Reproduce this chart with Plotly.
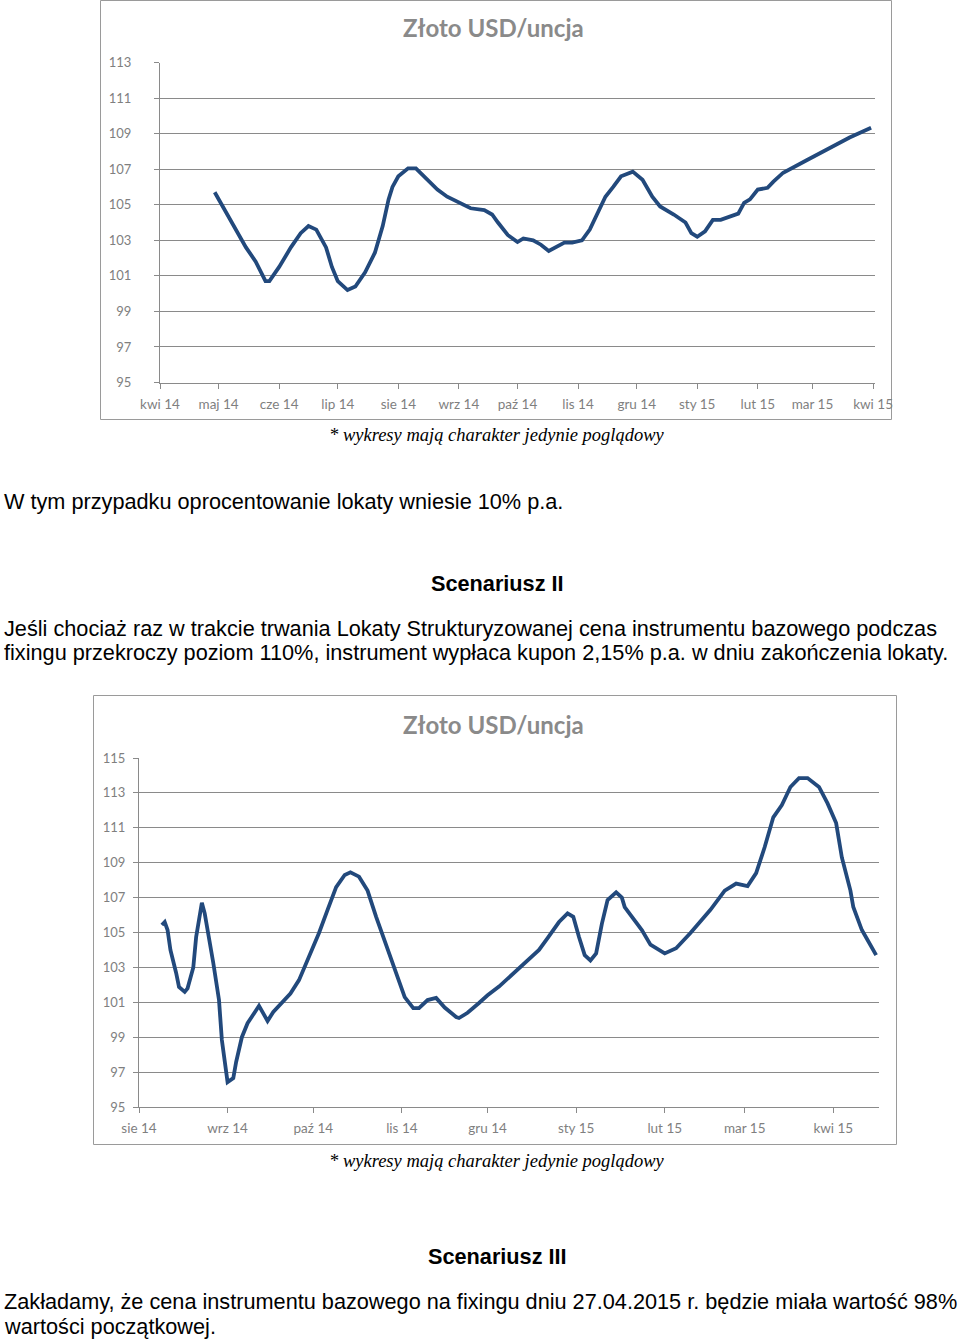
import plotly.graph_objects as go

# ---------------- data ----------------
# Chart 1 (Scenariusz I) - Złoto USD/uncja
dates1 = ["2014-04-29", "2014-05-01", "2014-05-08", "2014-05-15", "2014-05-20", "2014-05-25",
          "2014-05-27", "2014-06-01", "2014-06-07", "2014-06-12", "2014-06-16", "2014-06-20",
          "2014-06-25", "2014-06-28", "2014-07-01", "2014-07-06", "2014-07-10", "2014-07-15",
          "2014-07-20", "2014-07-24", "2014-07-27", "2014-07-29", "2014-08-01", "2014-08-06",
          "2014-08-10", "2014-08-16", "2014-08-21", "2014-08-26", "2014-09-02", "2014-09-07",
          "2014-09-14", "2014-09-18", "2014-09-21", "2014-09-26", "2014-10-01", "2014-10-04",
          "2014-10-09", "2014-10-13", "2014-10-17", "2014-10-21", "2014-10-25", "2014-10-29",
          "2014-11-03", "2014-11-07", "2014-11-11", "2014-11-15", "2014-11-19", "2014-11-23",
          "2014-11-29", "2014-12-04", "2014-12-09", "2014-12-13", "2014-12-20", "2014-12-26",
          "2014-12-29", "2015-01-01", "2015-01-05", "2015-01-09", "2015-01-13", "2015-01-18",
          "2015-01-22", "2015-01-25", "2015-01-28", "2015-02-01", "2015-02-06", "2015-02-09",
          "2015-02-14", "2015-02-26", "2015-03-08", "2015-03-20", "2015-03-31"]
values1 = [105.7, 105.3, 104.0, 102.6, 101.8, 100.7,
           100.7, 101.5, 102.6, 103.4, 103.8, 103.6,
           102.6, 101.5, 100.7, 100.2, 100.4, 101.2,
           102.3, 103.8, 105.3, 106.0, 106.6, 107.05,
           107.05, 106.4, 105.85, 105.45, 105.1, 104.8,
           104.7, 104.45, 104.0, 103.3, 102.9, 103.1,
           103.0, 102.75, 102.4, 102.64, 102.87, 102.87,
           103.0, 103.6, 104.55, 105.45, 106.0, 106.6,
           106.86, 106.4, 105.45, 104.9, 104.45, 104.0,
           103.4, 103.2, 103.5, 104.15, 104.15, 104.33,
           104.5, 105.1, 105.3, 105.85, 105.95, 106.3,
           106.8, 107.5, 108.1, 108.78, 109.33]
ticks1 = ["2014-04-01", "2014-05-01", "2014-06-01", "2014-07-01", "2014-08-01", "2014-09-01",
          "2014-10-01", "2014-11-01", "2014-12-01", "2015-01-01", "2015-02-01", "2015-03-01",
          "2015-04-01"]
labels1 = ["kwi 14", "maj 14", "cze 14", "lip 14", "sie 14", "wrz 14", "paź 14", "lis 14",
           "gru 14", "sty 15", "lut 15", "mar 15", "kwi 15"]
yticks1 = [95, 97, 99, 101, 103, 105, 107, 109, 111, 113]

# Chart 2 (Scenariusz II) - Złoto USD/uncja
dates2 = ["2014-08-09", "2014-08-10", "2014-08-11", "2014-08-12", "2014-08-14", "2014-08-15",
          "2014-08-17", "2014-08-18", "2014-08-20", "2014-08-21", "2014-08-23", "2014-08-24",
          "2014-08-27", "2014-08-29", "2014-08-30", "2014-09-01", "2014-09-03", "2014-09-04",
          "2014-09-06", "2014-09-08", "2014-09-12", "2014-09-15", "2014-09-17", "2014-09-21",
          "2014-09-23", "2014-09-26", "2014-09-29", "2014-10-03", "2014-10-06", "2014-10-09",
          "2014-10-12", "2014-10-14", "2014-10-17", "2014-10-20", "2014-10-23", "2014-10-25",
          "2014-10-28", "2014-10-31", "2014-11-02", "2014-11-05", "2014-11-07", "2014-11-10",
          "2014-11-13", "2014-11-16", "2014-11-20", "2014-11-21", "2014-11-24", "2014-11-28",
          "2014-12-01", "2014-12-05", "2014-12-12", "2014-12-19", "2014-12-22", "2014-12-26",
          "2014-12-29", "2014-12-31", "2015-01-02", "2015-01-04", "2015-01-06", "2015-01-08",
          "2015-01-10", "2015-01-12", "2015-01-15", "2015-01-17", "2015-01-18", "2015-01-24",
          "2015-01-27", "2015-02-01", "2015-02-05", "2015-02-10", "2015-02-17", "2015-02-22",
          "2015-02-26", "2015-03-02", "2015-03-05", "2015-03-08", "2015-03-11", "2015-03-14",
          "2015-03-17", "2015-03-20", "2015-03-23", "2015-03-27", "2015-03-30", "2015-04-02",
          "2015-04-04", "2015-04-07", "2015-04-08", "2015-04-11", "2015-04-13", "2015-04-16"]
values2 = [105.43, 105.6, 105.14, 104.0, 102.68, 101.88,
           101.6, 101.8, 103.0, 104.74, 106.7, 106.1,
           103.25, 101.13, 98.84, 96.43, 96.66, 97.58,
           99.0, 99.8, 100.8, 99.93, 100.45, 101.13,
           101.5, 102.27, 103.4, 104.97, 106.3, 107.6,
           108.3, 108.45, 108.2, 107.4, 105.9, 104.97,
           103.5, 102.1, 101.3, 100.67, 100.67, 101.13,
           101.25, 100.7, 100.16, 100.1, 100.4, 100.96,
           101.4, 101.9, 102.97, 104.0, 104.68, 105.6,
           106.1, 105.9, 104.74, 103.7, 103.4, 103.8,
           105.5, 106.86, 107.3, 107.0, 106.46, 105.14,
           104.3, 103.8, 104.1, 104.97, 106.3, 107.4,
           107.8, 107.66, 108.4, 109.9, 111.6, 112.3,
           113.34, 113.85, 113.85, 113.34, 112.4, 111.27,
           109.3, 107.4, 106.46, 105.14, 104.57, 103.7]
ticks2 = ["2014-08-01", "2014-09-01", "2014-10-01", "2014-11-01", "2014-12-01", "2015-01-01",
          "2015-02-01", "2015-03-01", "2015-04-01"]
labels2 = ["sie 14", "wrz 14", "paź 14", "lis 14", "gru 14", "sty 15", "lut 15", "mar 15",
           "kwi 15"]
yticks2 = [95, 97, 99, 101, 103, 105, 107, 109, 111, 113, 115]

# ---------------- layout helpers ----------------
W, H = 960, 1340


def px(x):
    return x / W


def py(y):
    return 1 - y / H


LINE = "#22497c"
GRID = "#8a8a8a"
XTICKFONT = dict(family="Lato, Open Sans, sans-serif", size=13.5, color="#7f7f7f")
YTICKFONT = dict(family="Lato, Open Sans, sans-serif", size=13, color="#7f7f7f")

fig = go.Figure()
fig.add_trace(go.Scatter(x=dates1, y=values1, mode="lines", xaxis="x", yaxis="y",
                         line=dict(color=LINE, width=3.8), showlegend=False, hoverinfo="x+y"))
fig.add_trace(go.Scatter(x=dates2, y=values2, mode="lines", xaxis="x2", yaxis="y2",
                         line=dict(color=LINE, width=3.8), showlegend=False, hoverinfo="x+y"))

common_x = dict(type="date", showgrid=False, showline=True, linecolor=GRID, linewidth=1,
                ticks="outside", ticklen=5, tickcolor=GRID, tickfont=XTICKFONT,
                ticklabelstandoff=4, zeroline=False, fixedrange=True, automargin=False)
common_y = dict(showgrid=True, gridcolor=GRID, gridwidth=1, showline=True, linecolor=GRID,
                linewidth=1, ticks="outside", ticklen=5, tickcolor=GRID, tickfont=YTICKFONT,
                zeroline=False, fixedrange=True, automargin=False)

fig.update_layout(
    width=W, height=H, autosize=False,
    margin=dict(l=0, r=0, t=0, b=0, pad=0, autoexpand=False),
    paper_bgcolor="white", plot_bgcolor="white",
    xaxis=dict(domain=[px(160), px(875)], range=["2014-04-01", "2015-04-02"],
               tickvals=ticks1, ticktext=labels1, anchor="y", **common_x),
    yaxis=dict(domain=[py(382.5), py(62.5)], range=[95, 113], tickvals=yticks1,
               anchor="x", ticklabelstandoff=20, **common_y),
    xaxis2=dict(domain=[px(139), px(879)], range=["2014-08-01", "2015-04-17"],
                tickvals=ticks2, ticktext=labels2, anchor="y2", **common_x),
    yaxis2=dict(domain=[py(1107), py(758)], range=[95, 115], tickvals=yticks2,
                anchor="x2", ticklabelstandoff=5, **common_y),
)

# chart frames
for (x0, y0, x1, y1) in [(100.5, 0.5, 891.5, 419.5), (93.5, 695.5, 896.5, 1144.5)]:
    fig.add_shape(type="rect", xref="paper", yref="paper",
                  x0=px(x0), x1=px(x1), y0=py(y1), y1=py(y0),
                  line=dict(color="#9a9a9a", width=1), fillcolor="rgba(0,0,0,0)", layer="below")

ARIAL = "Liberation Sans, Arial, sans-serif"
TIMES = "Liberation Serif, Times New Roman, serif"
TITLEFONT = dict(family="Lato, Open Sans, sans-serif", size=24, color="#8a8a8a")


def text(x, y, s, font, xanchor="left"):
    fig.add_annotation(x=px(x), y=py(y), xref="paper", yref="paper", text=s, showarrow=False,
                       xanchor=xanchor, yanchor="middle", font=font, align="left")


text(494, 28, "<b>Złoto USD/uncja</b>", TITLEFONT, "center")
text(494, 724, "<b>Złoto USD/uncja</b>", TITLEFONT, "center")

foot = dict(family=TIMES, size=18.5, color="#000000")
text(497, 435, "<i>* wykresy mają charakter jedynie poglądowy</i>", foot, "center")
text(497, 1161, "<i>* wykresy mają charakter jedynie poglądowy</i>", foot, "center")

body = dict(family=ARIAL, size=21.7, color="#000000")
text(2, 501, "W tym przypadku oprocentowanie lokaty wniesie 10% p.a.", body)
text(497, 583, "<b>Scenariusz II</b>", body, "center")
text(2, 628, "Jeśli chociaż raz w trakcie trwania Lokaty Strukturyzowanej cena instrumentu bazowego podczas", body)
text(2, 653, "fixingu przekroczy poziom 110%, instrument wypłaca kupon 2,15% p.a. w dniu zakończenia lokaty.", body)
text(497, 1256, "<b>Scenariusz III</b>", body, "center")
text(2, 1301, "Zakładamy, że cena instrumentu bazowego na fixingu dniu 27.04.2015 r. będzie miała wartość 98%", body)
text(2, 1326, "wartości początkowej.", body)

fig.write_html("out.html", config={"displayModeBar": False},
               post_script="document.body.style.margin='0';document.body.style.overflow='hidden';")
